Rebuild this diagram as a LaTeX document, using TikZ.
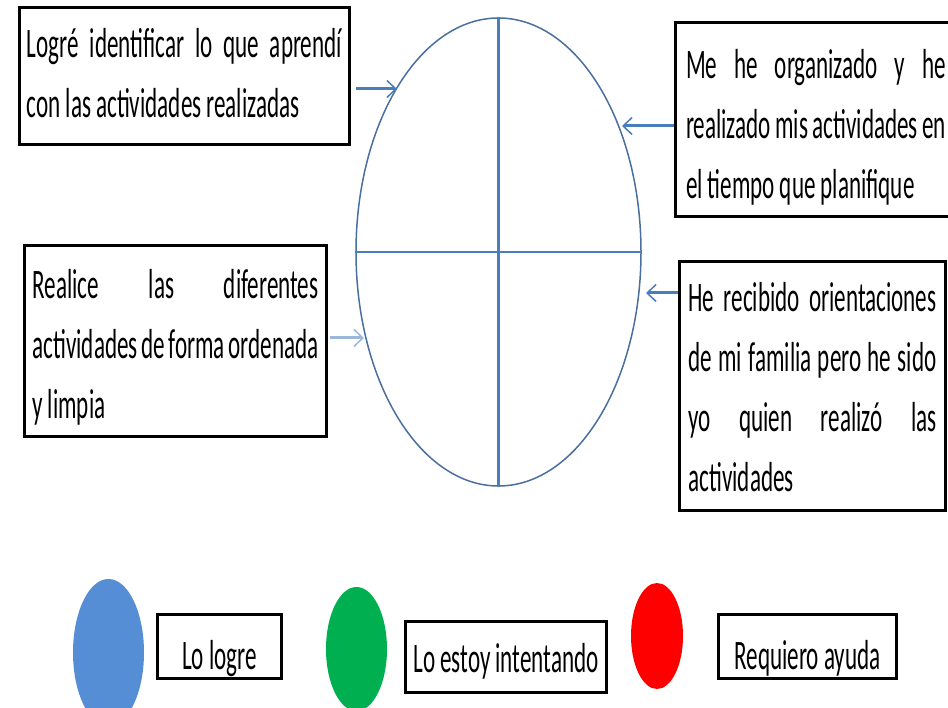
\documentclass[tikz,border=0pt]{standalone}
\usepackage{fontspec}
\setmainfont{Carlito}[FakeStretch=0.55]
\usetikzlibrary{arrows.meta,shapes.geometric}
\newcommand\boxfont{\fontsize{42}{60}\selectfont\spaceskip=5pt plus 1fil minus 3pt\relax}
\newcommand\jline[1]{\hbox to\hsize{\strut#1}}
\newcommand\lline[1]{\hbox{\strut#1}}
\begin{document}
\begin{tikzpicture}[x=1pt, y=-1pt,
  box/.style={draw=black, line width=3pt, inner sep=0pt, anchor=north west, font=\boxfont},
  arr/.style={draw=line, line width=3pt, -{Straight Barb[length=9pt,width=17pt,line width=1.5pt]}},
  cross/.style={draw=line, line width=2.5pt},
  dot/.style={ellipse, inner sep=0pt}]
\definecolor{line}{HTML}{4A7EBB}
\definecolor{ring}{HTML}{4A6E9E}
\definecolor{logre}{HTML}{558ED5}
\definecolor{intento}{HTML}{00B050}
\definecolor{ayuda}{HTML}{FF0000}
\useasboundingbox (0,0) rectangle (948,708);
\node[draw=ring, line width=1.5pt, ellipse, inner sep=0pt, minimum width=285, minimum height=468] (ring) at (498.5,252) {};
\draw[cross] (ring.north) -- (ring.south);
\draw[cross] (ring.west) -- (ring.east);
\node[box, minimum width=330, minimum height=137] (b1) at (18,6) {\vbox{\hsize=315pt\jline{Logré identificar lo que aprendí}\lline{con las actividades realizadas}}};
\node[box, minimum width=320, minimum height=193] (b2) at (674,21) {\hbox{\vbox{\hsize=260pt\vskip14pt\jline{Me he organizado y he}\jline{realizado mis actividades en}\lline{el tiempo que planifique}}\hskip39pt}};
\node[box, minimum width=302, minimum height=182] (b3) at (23,244) {\vbox{\hsize=286pt\vskip11pt\jline{Realice las diferentes}\jline{actividades de forma ordenada}\lline{y limpia}}};
\node[box, minimum width=266, minimum height=249] (b4) at (678,260) {\vbox{\hsize=248pt\vskip6pt\jline{He recibido orientaciones}\jline{de mi familia pero he sido}\jline{yo quien realizó las}\lline{actividades}}};
\coordinate (p1) at (397,89);
\coordinate (p2) at (622,126);
\coordinate (p3) at (364,338);
\coordinate (p4) at (646,293);
\draw[arr] ([xshift=5pt]p1 -| b1.east) -- (p1);
\draw[arr] (p2 -| b2.west) -- (p2);
\draw[arr, draw=line!55] ([xshift=2pt]p3 -| b3.east) -- (p3);
\draw[arr] (p4 -| b4.west) -- (p4);
\node[dot, fill=logre, minimum width=71, minimum height=147] (d1) at (108.5,652.5) {};
\node[dot, fill=intento, minimum width=61, minimum height=124] (d2) at (356.5,649) {};
\node[dot, fill=ayuda, minimum width=52, minimum height=106] (d3) at (657,636) {};
\node[box, minimum width=124, minimum height=64, text height=50, text depth=5] (l1) at (156,613) {Lo logre};
\node[box, minimum width=201, minimum height=71, text height=36, text depth=6] (l2) at (404,620) {Lo estoy intentando};
\node[box, minimum width=178, minimum height=64, text height=50, text depth=5] (l3) at (717,613) {Requiero ayuda};
\end{tikzpicture}
\end{document}
